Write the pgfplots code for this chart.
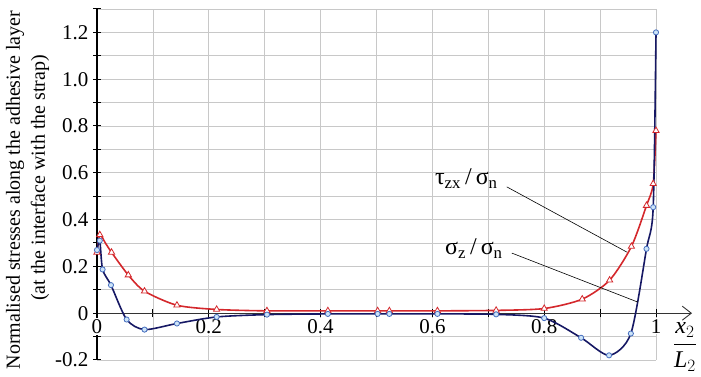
\documentclass[border=0pt]{standalone}
\usepackage{pgfplots}
\pgfplotsset{compat=1.18}
\usepackage{fontspec}
\setmainfont{Liberation Serif}
\usetikzlibrary{arrows.meta}
\definecolor{cred}{RGB}{212,40,44}
\definecolor{cblue}{RGB}{22,24,100}
\definecolor{cmark}{RGB}{70,110,190}
\definecolor{cfill}{RGB}{205,228,248}
\definecolor{cgrid}{RGB}{200,200,200}
\begin{document}
\begin{tikzpicture}
\useasboundingbox (-97pt,-17pt) rectangle (604pt,360pt);
\begin{axis}[
  at={(0,0)}, anchor=south west,
  scale only axis, width=559pt, height=351pt,
  xmin=0, xmax=1, ymin=-0.2, ymax=1.3,
  axis x line*=middle, axis y line*=left,
  hide obscured x ticks=false,
  x axis line style={black!80, line width=0.9pt, -{Straight Barb[length=9pt,width=14pt,line width=0.9pt]}, shorten >=-36pt},
  y axis line style={black, line width=1.8pt},
  xtick={0,0.2,0.4,0.6,0.8,1},
  xticklabels={0,0.2,0.4,0.6,0.8,1},
  minor xtick={0.1,0.3,0.5,0.7,0.9},
  ytick={-0.2,0,0.2,0.4,0.6,0.8,1.0,1.2},
  yticklabels={-0.2,0,0.2,0.4,0.6,0.8,1.0,1.2},
  minor ytick={-0.1,0.1,0.3,0.5,0.7,0.9,1.1,1.3},
  grid=both,
  major grid style={cgrid, line width=0.8pt},
  minor grid style={cgrid, line width=0.8pt},
  tick align=center,
  major tick length=8pt, minor tick length=8pt,
  every tick/.style={black, line width=1pt},
  ticklabel style={font=\fontsize{21}{21}\selectfont},
  xticklabel style={fill=white, inner sep=1pt, yshift=-1pt},
  yticklabel style={xshift=-1pt},
  clip=false,
]
% tau_zx / sigma_n  (red)
\addplot[cred, line width=1.6pt, smooth, tension=0.45] coordinates {
(0,0.26) (0.005,0.335) (0.015,0.30) (0.026,0.26) (0.056,0.163) (0.085,0.094)
(0.143,0.034) (0.214,0.016) (0.304,0.01) (0.413,0.01) (0.502,0.01) (0.523,0.01)
(0.609,0.01) (0.714,0.012) (0.8,0.02) (0.868,0.06) (0.917,0.141) (0.956,0.285)
(0.983,0.46) (0.995,0.553) (1.0,0.78)};
% sigma_z / sigma_n (blue)
\addplot[cblue, line width=1.6pt, smooth, tension=0.45] coordinates {
(0,0.27) (0.005,0.31) (0.01,0.187) (0.025,0.12) (0.053,-0.027) (0.085,-0.07)
(0.143,-0.044) (0.214,-0.016) (0.304,-0.006) (0.413,-0.003) (0.502,-0.003)
(0.523,-0.003) (0.609,-0.003) (0.714,-0.005) (0.8,-0.021) (0.866,-0.105)
(0.916,-0.18) (0.955,-0.087) (0.983,0.275) (0.995,0.453) (1.0,1.2)};
% markers
\addplot[only marks, mark=triangle*, mark size=3.6pt, mark options={fill=white, draw=cred, line width=0.8pt}] coordinates {
(0,0.26) (0.005,0.335) (0.026,0.26) (0.056,0.163) (0.085,0.094)
(0.143,0.034) (0.214,0.016) (0.304,0.01) (0.413,0.01) (0.502,0.01) (0.523,0.01)
(0.609,0.01) (0.714,0.012) (0.8,0.02) (0.868,0.06) (0.917,0.141) (0.956,0.285)
(0.983,0.46) (0.995,0.553) (1.0,0.78)};
\addplot[only marks, mark=*, mark size=2.6pt, mark options={fill=cfill, draw=cmark, line width=0.8pt}] coordinates {
(0,0.27) (0.005,0.31) (0.01,0.187) (0.025,0.12) (0.053,-0.027) (0.085,-0.07)
(0.143,-0.044) (0.214,-0.016) (0.304,-0.006) (0.413,-0.003) (0.502,-0.003)
(0.523,-0.003) (0.609,-0.003) (0.714,-0.005) (0.8,-0.021) (0.866,-0.105)
(0.916,-0.18) (0.955,-0.087) (0.983,0.275) (0.995,0.453) (1.0,1.2)};
% leader lines and labels
\draw[black, line width=0.6pt] (axis cs:0.733,0.540) -- (axis cs:0.948,0.261);
\draw[black, line width=0.6pt] (axis cs:0.742,0.257) -- (axis cs:0.968,0.047);
\node[anchor=base east, inner sep=0pt, font=\fontsize{24}{24}\selectfont] at (axis cs:0.717,0.549) {τ\textsubscript{zx}\,/\,σ\textsubscript{n}};
\node[anchor=base east, inner sep=0pt, font=\fontsize{24}{24}\selectfont] at (axis cs:0.726,0.249) {σ\textsubscript{z}\,/\,σ\textsubscript{n}};
\end{axis}
\node[rotate=90, font=\fontsize{20}{20}\selectfont, inner sep=0pt] at (-82pt,170pt) {Normalised stresses along the adhesive layer};
\node[rotate=90, font=\fontsize{20}{20}\selectfont, inner sep=0pt] at (-57pt,182pt) {(at the interface with the strap)};
\node[font=\fontsize{24}{24}\selectfont, inner sep=0pt] at (588pt,13pt) {$\displaystyle\frac{\mbox{\itshape x}_2}{\mbox{\itshape L}_2}$};
\end{tikzpicture}
\end{document}
